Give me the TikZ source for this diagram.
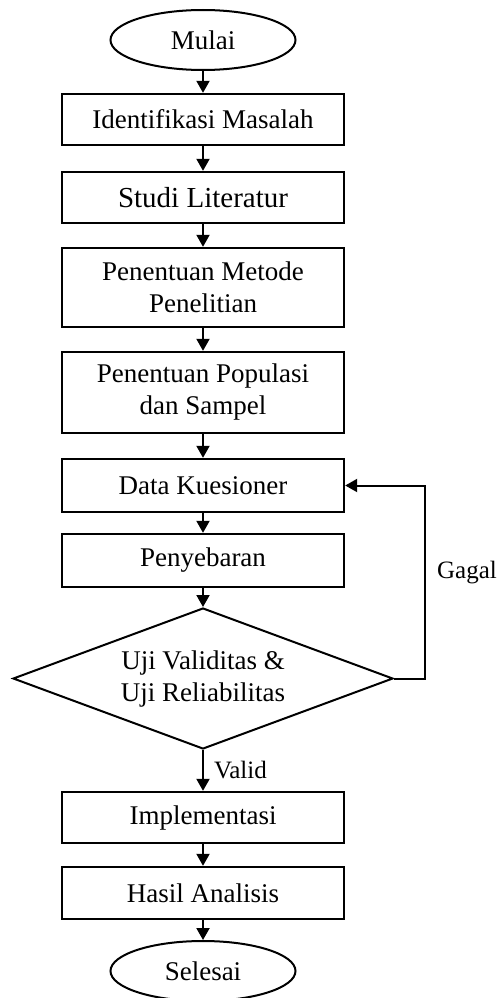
\documentclass[tikz,border=0pt]{standalone}
\usepackage{fontspec}
\setmainfont{Liberation Serif}
\usetikzlibrary{shapes.geometric,arrows.meta}
\begin{document}
\begin{tikzpicture}[x=1pt,y=-1pt,
  box/.style={draw,line width=2.4pt,minimum width=282pt,inner sep=0pt,align=center,font=\fontsize{27}{32}\selectfont},
  term/.style={draw,ellipse,line width=2pt,minimum width=185pt,minimum height=60pt,inner sep=0pt,font=\fontsize{27}{32}\selectfont},
  dec/.style={draw,diamond,line width=2pt,minimum width=380pt,minimum height=141pt,aspect=2.7,inner sep=0pt,align=center,font=\fontsize{27}{32}\selectfont},
  arr/.style={line width=2pt,-{Triangle[width=13pt,length=12pt]}},
  lbl/.style={font=\fontsize{25}{30}\selectfont,inner sep=0pt}]
\useasboundingbox (0,0) rectangle (499,998);
\node[term] (mulai) at (203,40) {Mulai};
\node[box,minimum height=51pt] (iden) at (203,119.5) {Identifikasi Masalah};
\node[box,minimum height=51pt,font=\fontsize{29}{34}\selectfont] (studi) at (203,197.5) {Studi Literatur};
\node[box,minimum height=79pt] (metode) at (203,287.5) {Penentuan Metode\\Penelitian};
\node[box,minimum height=81pt] (pop) at (203,392.5) {Penentuan Populasi\\dan Sampel};
\node[box,minimum height=53pt] (data) at (203,485.5) {Data Kuesioner};
\node[box,minimum height=53pt] (sebar) at (203,560.5) {Penyebaran};
\node[dec] (uji) at (203,678.5) {Uji Validitas \&\\Uji Reliabilitas};
\node[box,minimum height=51pt] (impl) at (203,817.5) {Implementasi};
\node[box,minimum height=52pt] (hasil) at (203,893) {Hasil Analisis};
\node[term] (selesai) at (203,971) {Selesai};
\draw[arr] (mulai) -- (iden);
\draw[arr] (iden) -- (studi);
\draw[arr] (studi) -- (metode);
\draw[arr] (metode) -- (pop);
\draw[arr] (pop) -- (data);
\draw[arr] (data) -- (sebar);
\draw[arr] (sebar) -- (uji);
\draw[arr] (uji) -- node[lbl,anchor=west,xshift=10pt] (valid) {Valid} (impl);
\draw[arr] (impl) -- (hasil);
\draw[arr] (hasil) -- (selesai);
\coordinate (fb) at (425,678.5);
\draw[arr] (uji.east) -- (fb) |- (data.east);
\node[lbl] (gagal) at (467,573) {Gagal};
\end{tikzpicture}
\end{document}
